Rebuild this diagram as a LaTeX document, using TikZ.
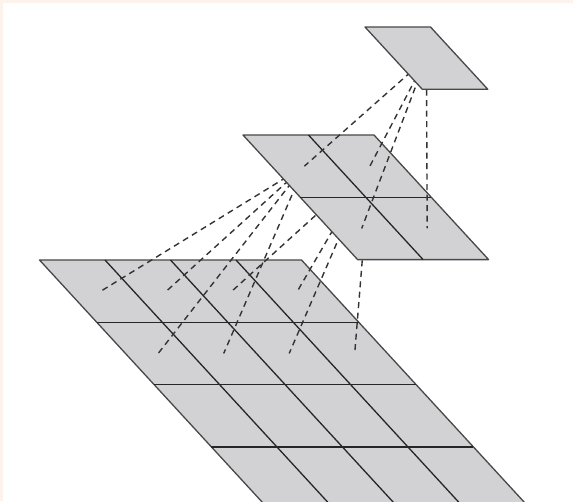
\documentclass[tikz,border=0pt]{standalone}
\definecolor{cellgray}{RGB}{210,210,212}
\definecolor{edgegray}{RGB}{72,72,72}
\definecolor{paper}{RGB}{253,243,236}
\tikzset{
  layer/.style={fill=cellgray, draw=edgegray, line width=1.3pt, line join=round},
  gridline/.style={draw=black!85, line width=1.3pt},
  link/.style={draw=black!80, line width=1.4pt, dash pattern=on 6pt off 4.5pt},
}
\begin{document}
\begin{tikzpicture}[x=1pt, y=-1pt]
\useasboundingbox (0,0) rectangle (573,501);
\clip (0,0) rectangle (573,501);
\fill[paper] (0,0) rectangle (573,501);
\fill[white] (3,3) rectangle (573,501);
% cell centres -- input layer (first two rows), hidden layer, output unit
\coordinate (b00) at (100.9,291.15);
\coordinate (b01) at (166.4,291.15);
\coordinate (b02) at (231.9,291.15);
\coordinate (b03) at (297.4,291.15);
\coordinate (b10) at (158.2,353.45);
\coordinate (b11) at (223.7,353.45);
\coordinate (b12) at (289.2,353.45);
\coordinate (b13) at (354.7,353.45);
\coordinate (m00) at (304.4,166.15);
\coordinate (m01) at (369.9,166.15);
\coordinate (m10) at (361.7,228.45);
\coordinate (m11) at (427.2,228.45);
\coordinate (t) at (426.4,58.15);
% input layer, 4 x 4 (cut off at the bottom)
\draw[layer] (39.5,260) -- (301.5,260) -- (530.7,509.2) -- (268.7,509.2) -- cycle;
\draw[gridline] (96.8,322.3) -- (358.8,322.3);
\draw[gridline] (154.1,384.6) -- (416.1,384.6);
\draw[gridline] (211.4,446.9) -- (473.4,446.9);
\draw[gridline] (105,260) -- (334.2,509.2);
\draw[gridline] (170.5,260) -- (399.7,509.2);
\draw[gridline] (236,260) -- (465.2,509.2);
% receptive fields of the two front hidden units
\draw[link] (m00) -- (b00);
\draw[link] (m00) -- (b01);
\draw[link] (m00) -- (b10);
\draw[link] (m00) -- (b11);
\draw[link] (m01) -- (b02);
\draw[link] (m01) -- (b03);
\draw[link] (m01) -- (b12);
\draw[link] (m01) -- (b13);
% hidden layer, 2 x 2
\draw[layer] (243,135) -- (374,135) -- (488.6,259.6) -- (357.6,259.6) -- cycle;
\draw[gridline] (300.3,197.3) -- (431.3,197.3);
\draw[gridline] (308.5,135) -- (423.1,259.6);
% output unit sees all four hidden units
\draw[link] (t) -- (m00);
\draw[link] (t) -- (m01);
\draw[link] (t) -- (m10);
\draw[link] (t) -- (m11);
\draw[layer] (365,27) -- (430.5,27) -- (487.8,89.3) -- (422.3,89.3) -- cycle;
\end{tikzpicture}
\end{document}
